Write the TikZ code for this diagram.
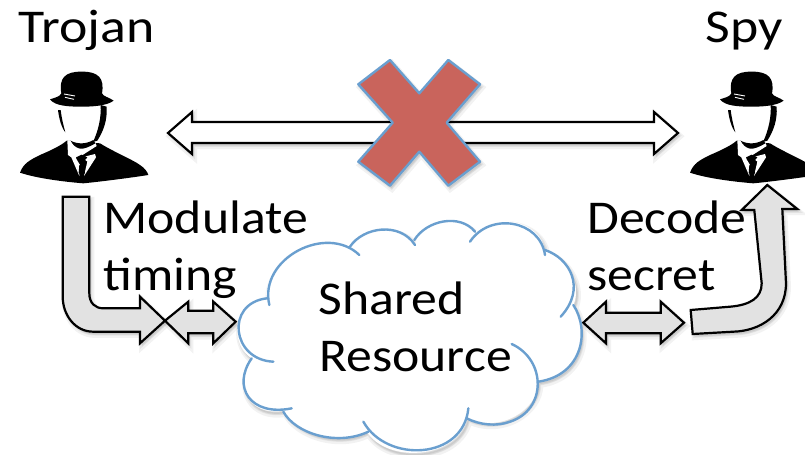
\documentclass[tikz,border=0pt]{standalone}
\usepackage{fontspec}
\setmainfont{Carlito}
\definecolor{cloudblue}{HTML}{6A9FCF}
\definecolor{crossred}{HTML}{C9645C}
\definecolor{arrowgrey}{HTML}{E2E2E2}
\tikzset{
  softshadow/.style={
    preaction={fill=black,draw=black,opacity=.05,line width=3pt,transform canvas={shift={(1pt,-1.6pt)}}},
    preaction={fill=black,draw=black,opacity=.06,line width=1.4pt,transform canvas={shift={(.8pt,-1.2pt)}}}},
  blockarrow/.style={draw=black,line width=1.1pt,line join=miter,fill=arrowgrey,softshadow},
  whitearrow/.style={blockarrow,fill=white},
  crossmark/.style={draw=cloudblue,line width=1.2pt,fill=crossred,line join=round,softshadow},
  cloudfill/.style={fill=white,softshadow},
  cloudline/.style={draw=cloudblue,line width=1.2pt,line cap=round},
  lbl/.style={inner sep=0pt,anchor=base west,font=\fontsize{23.5pt}{28pt}\selectfont,xscale=1.1},
  toplbl/.style={lbl,xscale=1.04},
  zoomA/.style={x=.16667pt,y=-.16667pt},
  man/.pic={
    % body
    \fill[black] (60,368) .. controls (70,340) and (90,330) .. (120,315)
      .. controls (160,298) and (185,285) .. (200,272) -- (300,280)
      .. controls (340,305) and (400,330) .. (420,345)
      .. controls (435,355) and (442,365) .. (445,375)
      .. controls (380,385) and (300,395) .. (250,400)
      .. controls (190,395) and (110,385) .. (60,368) -- cycle;
    % shirt collar and lapels
    \fill[white] (202,272) -- (204,315) -- (214,322) -- (238,378) -- (240,345) -- (228,325) -- (243,318)
      -- (290,288) -- (285,275) -- cycle;
    \fill[white] (246,322) -- (262,335) -- (252,378) -- (288,322) -- (285,312) -- cycle;
    \fill[black] (228,322) -- (245,342) -- (262,322) -- (245,314) -- cycle;
    \fill[black] (238,345) -- (252,345) -- (255,368) -- (245,380) -- (236,368) -- cycle;
    % hair and face edge
    \fill[black] (302,165) .. controls (304,200) and (296,240) .. (279,276)
      -- (292,272) .. controls (312,240) and (322,210) .. (320,170) -- cycle;
    \fill[black] (174,180) .. controls (177,205) and (184,232) .. (196,247)
      .. controls (190,225) and (185,205) .. (182,180) -- cycle;
    % chin shadow
    \fill[black] (212,272) .. controls (232,283) and (258,283) .. (280,270)
      -- (286,280) .. controls (270,290) and (250,298) .. (240,296)
      .. controls (228,293) and (218,285) .. (212,272) -- cycle;
    % hat
    \fill[black] (150,148) .. controls (165,143) and (180,140) .. (184,130)
      .. controls (176,85) and (195,64) .. (245,65)
      .. controls (295,64) and (314,85) .. (306,130)
      .. controls (310,140) and (328,142) .. (341,152)
      .. controls (320,168) and (275,170) .. (245,170)
      .. controls (205,170) and (165,168) .. (150,148) -- cycle;
    \draw[white,line width=.45pt] (192,132) -- (225,138) (195,142) -- (222,148);
  }
}
\begin{document}
\begin{tikzpicture}[x=.5pt,y=-.5pt]
\useasboundingbox (0,0) rectangle (805,455);
\clip (0,0) rectangle (805,455);

% men
\begin{scope}[zoomA,shift={(0,150)}]
  \pic (trojanman) at (0,0) {man};
\end{scope}
\begin{scope}[zoomA,shift={(2010,150)}]
  \pic (spyman) at (0,0) {man};
\end{scope}

% top double arrow
\draw[whitearrow] (168,133) -- (192,112) -- (192,122) -- (654,122) -- (654,112) -- (678,133)
  -- (654,154) -- (654,143) -- (192,143) -- (192,154) -- cycle;

% cross
\path[crossmark] (390,60) -- (419.3,93.3) -- (448.3,60) -- (480,84.3) -- (446.7,122.7)
  -- (480,161.7) -- (448.3,185.7) -- (419.3,151.7) -- (390,185.7) -- (358.3,161.7)
  -- (392.7,122.7) -- (358.3,84.3) -- cycle;

% left block arrows
\draw[blockarrow] (62.7,196.7) -- (89.3,196.7) -- (89.3,293)
  .. controls (89.3,303) and (95,308.3) .. (103.3,308.3)
  -- (140,308.3) -- (140,296.7) -- (165,320.7) -- (140,343.3) -- (140,331.7) -- (93.3,331.7)
  .. controls (75,331.7) and (62.7,315) .. (62.7,296.7) -- cycle;
\draw[blockarrow] (165,320.7) -- (188.3,301.7) -- (188.3,310.7) -- (213.3,310.7) -- (213.3,301.7)
  -- (235.7,321.7) -- (213.3,343.3) -- (213.3,333.3) -- (188.3,333.3) -- (188.3,343.3) -- cycle;

% right block arrows
\draw[blockarrow] (583.3,322.7) -- (606,301.7) -- (606,312.7) -- (660.7,312.7) -- (660.7,301.7)
  -- (684,322.7) -- (660.7,343.3) -- (660.7,333.3) -- (606,333.3) -- (606,343.3) -- cycle;
\draw[blockarrow] (690.7,310) -- (730,306.7)
  .. controls (750,305) and (761.7,298) .. (761.7,283.3)
  -- (754.3,210) -- (741.7,210) -- (767.3,185) -- (797.3,209) -- (782.3,209) -- (786,283.3)
  .. controls (786,315) and (760,331) .. (733.3,331.7) -- (692.7,334) -- cycle;

% cloud (coordinates of the 3x crop at 230,190)
\begin{scope}[zoomA,shift={(690,570)}]
  \path[cloudfill] (110,325) .. controls (95,205) and (290,100) .. (385,195)
    -- (360,170) .. controls (400,110) and (510,95) .. (555,160)
    .. controls (590,95) and (690,70) .. (735,125)
    .. controls (790,65) and (930,90) .. (945,180)
    .. controls (1020,205) and (1055,290) .. (1030,345)
    .. controls (1080,420) and (1060,555) .. (925,575)
    .. controls (925,660) and (810,730) .. (712,685)
    .. controls (680,810) and (470,820) .. (410,725)
    .. controls (320,770) and (195,730) .. (160,662)
    .. controls (60,680) and (5,590) .. (65,505)
    .. controls (5,470) and (-5,340) .. (110,325) -- cycle;
  \draw[cloudline] (118,345) .. controls (85,205) and (290,100) .. (388,195);
  \draw[cloudline] (360,170) .. controls (400,110) and (510,95) .. (555,165);
  \draw[cloudline] (553,150) .. controls (590,90) and (690,70) .. (735,125);
  \draw[cloudline] (720,155) .. controls (780,65) and (930,90) .. (945,195);
  \draw[cloudline] (945,180) .. controls (1020,205) and (1070,295) .. (992,380);
  \draw[cloudline] (1030,345) .. controls (1080,420) and (1060,555) .. (925,575);
  \draw[cloudline] (845,462) .. controls (950,510) and (950,660) .. (840,695)
    .. controls (800,710) and (750,705) .. (710,685);
  \draw[cloudline] (715,655) .. controls (700,810) and (470,820) .. (400,695);
  \draw[cloudline] (415,725) .. controls (320,770) and (195,730) .. (160,665);
  \draw[cloudline] (185,655) .. controls (60,680) and (5,590) .. (65,505);
  \draw[cloudline] (130,515) .. controls (5,510) and (-15,340) .. (110,325);
\end{scope}

% labels
\node[toplbl] (trojan) at (18,42) {Trojan};
\node[toplbl] (spy) at (705,42) {Spy};
\node[lbl] (modulate) at (103,233) {Modulate};
\node[lbl] (timing) at (103,290) {timing};
\node[lbl] (decode) at (587,233) {Decode};
\node[lbl] (secret) at (587,290) {secret};
\node[lbl] (shared) at (318,314) {Shared};
\node[lbl] (resource) at (319,371) {Resource};
\end{tikzpicture}
\end{document}
